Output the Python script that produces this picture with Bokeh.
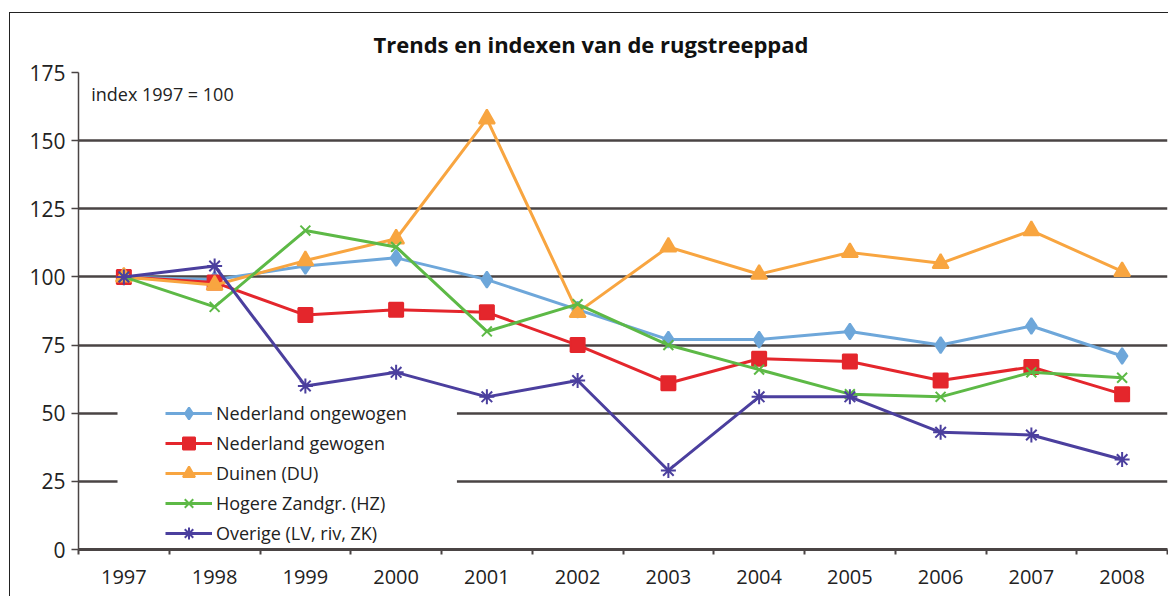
from bokeh.plotting import figure
from bokeh.models import Range1d, FixedTicker, Label, BoxAnnotation, Legend
from bokeh.embed import file_html
from bokeh.resources import INLINE

years = [1997, 1998, 1999, 2000, 2001, 2002, 2003, 2004, 2005, 2006, 2007, 2008]
nl_ongewogen = [100, 99, 104, 107, 99, 88, 77, 77, 80, 75, 82, 71]
nl_gewogen = [100, 98, 86, 88, 87, 75, 61, 70, 69, 62, 67, 57]
duinen = [100, 97, 106, 114, 158, 87, 111, 101, 109, 105, 117, 102]
hogere_zandgr = [100, 89, 117, 111, 80, 90, 75, 66, 57, 56, 65, 63]
overige = [100, 104, 60, 65, 56, 62, 29, 56, 56, 43, 42, 33]
y_ticks = [0, 25, 50, 75, 100, 125, 150, 175]

series = [
    ("Nederland ongewogen", nl_ongewogen, "#6ea7da", "diamond", 16),
    ("Nederland gewogen", nl_gewogen, "#e4262c", "square", 14),
    ("Duinen (DU)", duinen, "#f8a540", "triangle", 16),
    ("Hogere Zandgr. (HZ)", hogere_zandgr, "#5db946", "x", 14),
    ("Overige (LV, riv, ZK)", overige, "#4b3f9e", "asterisk", 15),
]

FONT = "Open Sans"
DARK = "#4a4444"

p = figure(width=1168, height=596, output_backend="svg", toolbar_location=None,
           x_range=Range1d(1996.5, 2008.5), y_range=Range1d(0, 175),
           min_border_left=78, min_border_right=1, min_border_top=72, min_border_bottom=47)
# thin outer frame (left and top edges) drawn as CSS background behind the transparent canvas border
p.styles = {
    "background-color": "white",
    "background-image": "linear-gradient(#222, #222), linear-gradient(#222, #222)",
    "background-size": "1px 100%, 100% 1px",
    "background-position": "9px 12px, 9px 12px",
    "background-repeat": "no-repeat",
}
p.outline_line_color = None
p.background_fill_color = "white"
p.border_fill_alpha = 0

p.title.text = "Trends en indexen van de rugstreeppad"
p.title.text_font = FONT
p.title.text_font_style = "bold"
p.title.text_font_size = "22px"
p.title.text_color = "#111111"
p.title.align = "left"
p.title.offset = 295
p.title.standoff = 27

# x axis
p.xaxis.ticker = FixedTicker(ticks=years, minor_ticks=[y - 0.5 for y in years] + [years[-1] + 0.5])
p.xaxis.major_label_overrides = {y: str(y) for y in years}
p.xaxis.major_tick_out = 0
p.xaxis.major_tick_in = 0
p.xaxis.minor_tick_out = 5
p.xaxis.minor_tick_in = 0
p.xaxis.minor_tick_line_color = DARK
p.xaxis.minor_tick_line_width = 2
p.xaxis.axis_line_color = DARK
p.xaxis.axis_line_width = 3
p.xaxis.major_label_text_font = FONT
p.xaxis.major_label_text_font_size = "20px"
p.xaxis.major_label_text_color = "#222222"
p.xaxis.major_label_standoff = 15

# y axis
p.yaxis.ticker = FixedTicker(ticks=y_ticks)
p.yaxis.major_tick_out = 7
p.yaxis.major_tick_in = 0
p.yaxis.major_tick_line_color = DARK
p.yaxis.major_tick_line_width = 1.5
p.yaxis.minor_tick_line_color = None
p.yaxis.axis_line_color = DARK
p.yaxis.axis_line_width = 1.5
p.yaxis.major_label_text_font = FONT
p.yaxis.major_label_text_font_size = "21px"
p.yaxis.major_label_text_color = "#222222"
p.yaxis.major_label_standoff = 6

p.xgrid.visible = False
p.ygrid.ticker = FixedTicker(ticks=y_ticks[1:])
p.ygrid.grid_line_color = DARK
p.ygrid.grid_line_width = 2.5

# white area behind legend interrupting grid lines
p.add_layout(BoxAnnotation(left=1996.93, right=2000.67, bottom=0.6, top=55.5,
                           fill_color="white", fill_alpha=1, line_color=None))

p.add_layout(Label(x=1996.64, y=167, text="index 1997 = 100", text_font=FONT,
                   text_font_size="18px", text_color="#222222", text_baseline="middle"))

items = []
for name, vals, color, marker, size in series:
    r1 = p.line(years, vals, line_color=color, line_width=3)
    r2 = p.scatter(years, vals, marker=marker, size=size, fill_color=color,
                   line_color=color, line_width=2)
    items.append((name, [r1, r2]))

legend = Legend(items=items, location=(87, 1), padding=0, margin=0, spacing=0,
                glyph_width=47, glyph_height=30, label_height=30, label_standoff=4,
                label_text_font=FONT, label_text_font_size="18px", label_text_color="#222222",
                background_fill_alpha=0, border_line_color=None)
p.add_layout(legend)

open("out.html", "w").write(file_html(p, INLINE))
